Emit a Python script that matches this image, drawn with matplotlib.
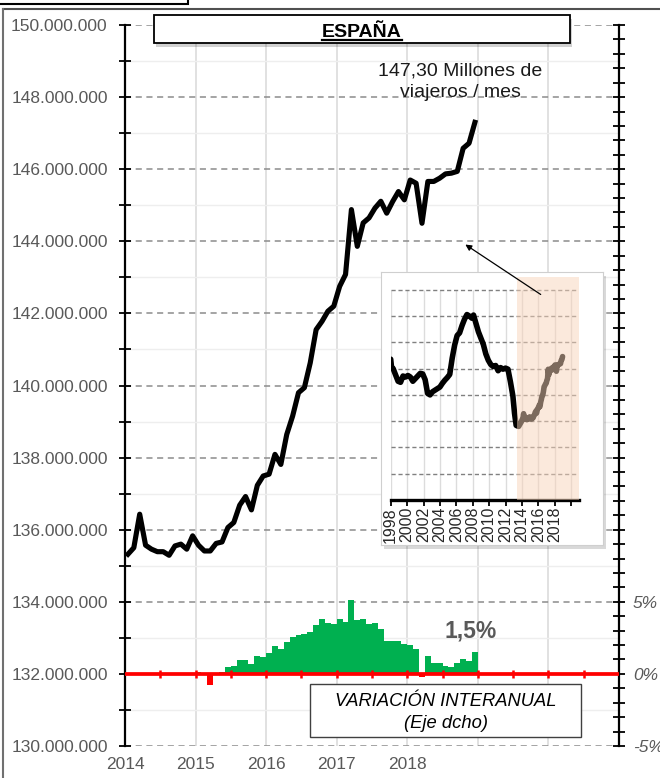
import numpy as np
import matplotlib.pyplot as plt
from matplotlib.patches import Rectangle, FancyArrowPatch
from matplotlib.lines import Line2D
from matplotlib.ticker import FixedLocator, FuncFormatter

plt.rcParams['font.family'] = ['Liberation Sans', 'DejaVu Sans']

# viajeros (millones / mes), ene-2014 .. dic-2018
viajeros_2014 = [135.32, 135.50, 136.43, 135.57, 135.46, 135.39, 135.39, 135.29, 135.55, 135.60, 135.46, 135.83]
viajeros_2015 = [135.57, 135.41, 135.41, 135.62, 135.66, 136.06, 136.20, 136.68, 136.92, 136.55, 137.23, 137.49]
viajeros_2016 = [137.54, 138.09, 137.81, 138.64, 139.15, 139.80, 139.94, 140.63, 141.55, 141.78, 142.06, 142.20]
viajeros_2017 = [142.75, 143.08, 144.88, 143.86, 144.51, 144.65, 144.92, 145.11, 144.78, 145.10, 145.38, 145.15]
viajeros_2018 = [145.70, 145.61, 144.50, 145.66, 145.66, 145.75, 145.87, 145.89, 145.94, 146.58, 146.72, 147.30]
viajeros = viajeros_2014 + viajeros_2015 + viajeros_2016 + viajeros_2017 + viajeros_2018

# variacion interanual (%), ene-2015 .. dic-2018
variacion = [0.14, -0.05, -0.77, 0.02, 0.10, 0.47, 0.56, 0.98, 0.98, 0.70, 1.26, 1.16,
             1.47, 1.95, 1.72, 2.21, 2.53, 2.72, 2.74, 2.91, 3.40, 3.84, 3.56, 3.47,
             3.84, 3.60, 5.12, 3.77, 3.84, 3.49, 3.56, 3.14, 2.26, 2.26, 2.28, 2.05,
             2.02, 1.70, -0.23, 1.21, 0.77, 0.74, 0.58, 0.51, 0.77, 1.02, 0.88, 1.50]

# serie larga del recuadro (1998-2013), millones
inset_anios = [1998.0, 1998.1, 1998.3, 1998.6, 1998.9, 1999.2, 1999.5, 1999.8, 2000.1, 2000.4,
               2000.7, 2001.0, 2001.3, 2001.6, 2001.9, 2002.2, 2002.5, 2002.8, 2003.1, 2003.4,
               2003.7, 2004.0, 2004.3, 2004.6, 2004.9, 2005.2, 2005.5, 2005.8, 2006.1, 2006.4,
               2006.7, 2007.0, 2007.3, 2007.6, 2007.9, 2008.1, 2008.4, 2008.7, 2009.0, 2009.3,
               2009.6, 2009.9, 2010.2, 2010.5, 2010.8, 2011.1, 2011.4, 2011.7, 2012.0, 2012.3,
               2012.6, 2012.9, 2013.1, 2013.3, 2013.6, 2013.9]
inset_viajeros = [146.8, 145.3, 145.0, 143.8, 142.6, 142.4, 143.6, 143.4, 143.7, 143.4,
                  142.6, 143.1, 143.6, 144.1, 144.0, 142.9, 140.3, 140.0, 140.6, 140.9,
                  141.2, 141.5, 142.2, 142.8, 143.3, 143.9, 147.0, 149.5, 151.3, 151.8,
                  153.2, 154.4, 155.3, 155.0, 154.6, 155.2, 153.6, 152.0, 150.8, 149.6,
                  147.8, 146.6, 145.8, 145.4, 145.6, 144.6, 145.2, 144.9, 145.1, 144.9,
                  142.5, 139.8, 136.5, 134.2, 134.0, 134.8]

W, H = 660, 778


def fx(px):
    return px / W


def fy(py):
    return 1 - py / H


GRIS = '#595959'
VERDE = '#00B050'
ROJO = '#FF0000'

fig = plt.figure(figsize=(6.6, 7.78), dpi=100)
fig.patch.set_facecolor('white')

# marco exterior y recuadro cortado arriba
fig.add_artist(Line2D([fx(3), 1], [fy(9), fy(9)], color='#505050', lw=1.5))
fig.add_artist(Line2D([fx(3), fx(3)], [fy(9), 0], color='#707070', lw=1.5))
fig.add_artist(Rectangle((fx(-5), fy(4)), fx(193), 0.05, fill=False, ec='black', lw=1.5))

# eje principal
ax = fig.add_axes([fx(125), fy(746), fx(619) - fx(125), fy(25) - fy(746)])
meses = 2014 + (np.arange(len(viajeros)) + 0.5) / 12
ax.plot(meses, np.array(viajeros) * 1e6, color='black', lw=3.7,
        solid_joinstyle='round', zorder=5)
ax.set_xlim(2014, 2021)
ax.set_ylim(130e6, 150e6)

ax.yaxis.set_major_locator(FixedLocator(np.arange(130e6, 150e6 + 1, 2e6)))
ax.yaxis.set_minor_locator(FixedLocator(np.arange(131e6, 150e6, 2e6)))
ax.yaxis.set_major_formatter(FuncFormatter(lambda v, _: f"{int(round(v)):,}".replace(",", ".")))
ax.tick_params(axis='y', which='both', direction='inout', length=8, width=1.3,
               color='black', labelsize=12.5, labelcolor=GRIS, pad=8.5)
ax.set_xticks(range(2014, 2022))
ax.set_xticklabels([str(a) if a <= 2018 else '' for a in range(2014, 2022)])
ax.tick_params(axis='x', length=0, pad=8, labelsize=12.5, labelcolor=GRIS)

ax.grid(axis='y', which='major', color='#8c8c8c', linestyle=(0, (4, 3)), lw=1.1)
ax.grid(axis='y', which='minor', color='#eeeeee', lw=1)
ax.grid(axis='x', which='major', color='#dcdcdc', lw=1.2)
ax.set_axisbelow(True)
for s in ['top', 'bottom']:
    ax.spines[s].set_visible(False)
ax.spines['left'].set_linewidth(1.6)
ax.spines['right'].set_visible(False)

# eje derecho: variacion interanual
ax2 = ax.twinx()
ax2.set_ylim(-5, 45)
ax2.spines['right'].set_linewidth(1.6)
for s in ['top', 'bottom', 'left']:
    ax2.spines[s].set_visible(False)
ax2.yaxis.set_major_locator(FixedLocator([-5, 0, 5]))
ax2.yaxis.set_minor_locator(FixedLocator(np.arange(-5, 46, 1)))
ax2.yaxis.set_major_formatter(FuncFormatter(lambda v, _: f"{int(v)}%"))
ax2.tick_params(axis='y', which='both', direction='inout', length=8, width=1.3,
                color='black', labelsize=12.5, labelcolor=GRIS, pad=6)
for t in ax2.get_yticklabels():
    t.set_fontstyle('italic')

x_var = 2015 + (np.arange(len(variacion)) + 0.5) / 12
colores = [VERDE if v >= 0 else ROJO for v in variacion]
ax2.bar(x_var, variacion, width=1 / 12, color=colores, lw=0, zorder=2)
ax2.axhline(0, color=ROJO, lw=2.7, zorder=3)
ax2.vlines(np.arange(2014.5, 2021, 0.5), -0.3, 0.3, color=ROJO, lw=1.8, zorder=3)
ax2.text(2018.9, 2.55, f"{variacion[-1]:.1f}%".replace('.', ','), ha='center',
         va='baseline', fontsize=16.5, fontweight='bold', color=GRIS)

# texto del ultimo dato
fig.text(fx(460), fy(76), f"{viajeros[-1]:.2f}".replace('.', ',') + " Millones de",
         ha='center', va='baseline', fontsize=14, color='#1a1a1a')
fig.text(fx(460), fy(97), "viajeros / mes", ha='center', va='baseline',
         fontsize=14, color='#1a1a1a')

# titulo
fig.add_artist(Rectangle((fx(156), fy(47)), fx(570) - fx(154), fy(15) - fy(43),
                         transform=fig.transFigure, fc='black', alpha=0.18, lw=0, zorder=9))
fig.add_artist(Rectangle((fx(154), fy(43)), fx(570) - fx(154), fy(15) - fy(43),
                         transform=fig.transFigure, fc='white', ec='black', lw=1.3, zorder=10))
titulo = fig.text(fx(362), fy(36.7), "ESPAÑA", ha='center', va='baseline',
                  fontsize=14, fontweight='bold', color='black', zorder=11)

# recuadro inferior
fig.add_artist(Rectangle((fx(310), fy(737)), fx(581) - fx(310), fy(684) - fy(737),
                         transform=fig.transFigure, fc='white', ec='#404040', lw=1, zorder=10))
fig.text(fx(446), fy(706), "VARIACIÓN INTERANUAL", ha='center', va='baseline',
         fontsize=13.2, fontstyle='italic', color='black', zorder=11)
fig.text(fx(446), fy(728), "(Eje dcho)", ha='center', va='baseline',
         fontsize=13.2, fontstyle='italic', color='black', zorder=11)

# recuadro con la serie larga
fig.add_artist(Rectangle((fx(384), fy(549)), fx(603) - fx(381), fy(272) - fy(545),
                         transform=fig.transFigure, fc='black', alpha=0.15, lw=0, zorder=3))
box = fig.add_axes([fx(381), fy(545), fx(603) - fx(381), fy(272) - fy(545)], zorder=4)
box.set_xticks([])
box.set_yticks([])
box.set_facecolor('white')
for s in box.spines.values():
    s.set_color('#cfcfcf')
    s.set_linewidth(0.8)

ax_in = fig.add_axes([fx(390.7), fy(500), fx(579.3) - fx(390.7), fy(276.7) - fy(500)], zorder=5)
ax_in.patch.set_visible(False)
ax_in.set_xlim(1998, 2021)
ax_in.set_ylim(120, 162.5)
ax_in.hlines(np.arange(125, 161, 5), 1998, 2021, colors='#808080',
             linestyles=(0, (3, 2)), lw=1, zorder=1)
ax_in.vlines(np.arange(1998, 2021, 2), 120, 160, colors='#dcdcdc', lw=1, zorder=0.9)
x_largo = np.concatenate([inset_anios, meses])
y_largo = np.concatenate([inset_viajeros, viajeros])
ax_in.plot(x_largo, y_largo, color='black', lw=4, solid_joinstyle='round',
           solid_capstyle='round', zorder=3)
ax_in.axvspan(2013.4, 2021, color=(0.976, 0.831, 0.729), alpha=0.5, lw=0, zorder=4)
for s in ['top', 'left', 'right']:
    ax_in.spines[s].set_visible(False)
ax_in.spines['bottom'].set_linewidth(2.4)
ax_in.set_yticks([])
ax_in.set_xticks(range(1998, 2021, 2))
ax_in.set_xticklabels([str(a) if a <= 2018 else '' for a in range(1998, 2021, 2)])
ax_in.tick_params(axis='x', direction='out', length=4, width=1.3, labelsize=11.5,
                  labelrotation=90, pad=1, labelcolor='#262626')

fig.add_artist(FancyArrowPatch((fx(543), fy(296)), (fx(463), fy(243)),
                               transform=fig.transFigure, arrowstyle='-|>',
                               mutation_scale=9, lw=0.9, color='black', zorder=6))

# subrayado del titulo
fig.canvas.draw()
bb = titulo.get_window_extent()
fig.add_artist(Line2D([bb.x0 / W, bb.x1 / W], [fy(39.5), fy(39.5)], color='black',
                      lw=1.6, zorder=11))

fig.savefig('out.png', dpi=100)
